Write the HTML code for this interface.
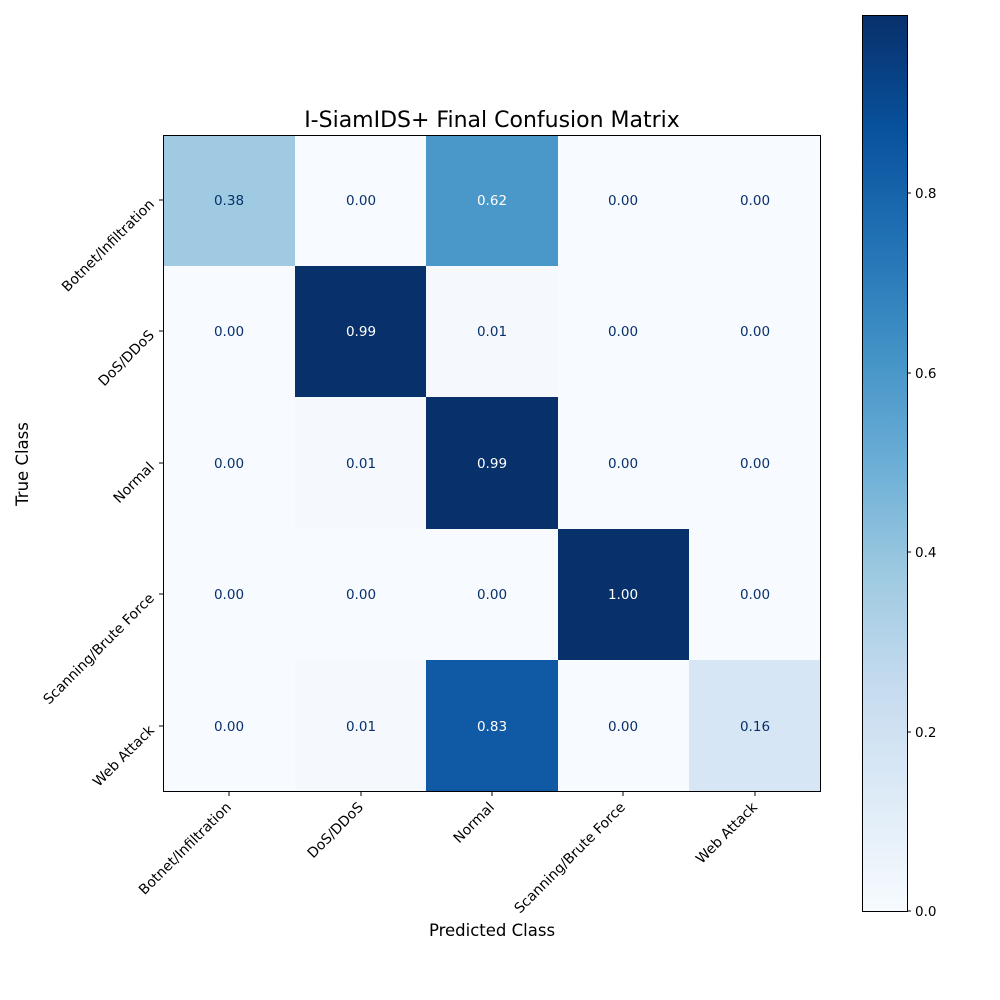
<!DOCTYPE html>
<html><head><style>body{margin:0;background:#fff}svg{display:block;font-family:"DejaVu Sans","Liberation Sans",sans-serif}</style></head>
<body>
<svg width="1000" height="1000" viewBox="0 0 1000 1000">
<defs>
<linearGradient id="g" x1="0" y1="1" x2="0" y2="0">
<stop offset="0" stop-color="#f7fbff"/><stop offset=".125" stop-color="#deebf7"/><stop offset=".25" stop-color="#c6dbef"/><stop offset=".375" stop-color="#9ecae1"/><stop offset=".5" stop-color="#6baed6"/><stop offset=".625" stop-color="#4292c6"/><stop offset=".75" stop-color="#2171b5"/><stop offset=".875" stop-color="#08519c"/><stop offset="1" stop-color="#08306b"/>
</linearGradient>
</defs>
<text x="492" y="127" font-size="22" text-anchor="middle">I-SiamIDS+ Final Confusion Matrix</text>
<g>
<rect x="163" y="135" width="132" height="132" fill="#a0cae1"/>
<rect x="295" y="135" width="132" height="132" fill="#f7fbff"/>
<rect x="426" y="135" width="132" height="132" fill="#4a98c9"/>
<rect x="558" y="135" width="132" height="132" fill="#f7fbff"/>
<rect x="689" y="135" width="132" height="132" fill="#f7fbff"/>
<rect x="163" y="266" width="132" height="132" fill="#f7fbff"/>
<rect x="295" y="266" width="132" height="132" fill="#08306b"/>
<rect x="426" y="266" width="132" height="132" fill="#f5f9fe"/>
<rect x="558" y="266" width="132" height="132" fill="#f7fbff"/>
<rect x="689" y="266" width="132" height="132" fill="#f7fbff"/>
<rect x="163" y="397" width="132" height="132" fill="#f7fbff"/>
<rect x="295" y="397" width="132" height="132" fill="#f5f9fe"/>
<rect x="426" y="397" width="132" height="132" fill="#08306b"/>
<rect x="558" y="397" width="132" height="132" fill="#f7fbff"/>
<rect x="689" y="397" width="132" height="132" fill="#f7fbff"/>
<rect x="163" y="529" width="132" height="132" fill="#f7fbff"/>
<rect x="295" y="529" width="132" height="132" fill="#f7fbff"/>
<rect x="426" y="529" width="132" height="132" fill="#f7fbff"/>
<rect x="558" y="529" width="132" height="132" fill="#08306b"/>
<rect x="689" y="529" width="132" height="132" fill="#f7fbff"/>
<rect x="163" y="660" width="132" height="132" fill="#f7fbff"/>
<rect x="295" y="660" width="132" height="132" fill="#f5f9fe"/>
<rect x="426" y="660" width="132" height="132" fill="#1059a5"/>
<rect x="558" y="660" width="132" height="132" fill="#f7fbff"/>
<rect x="689" y="660" width="132" height="132" fill="#d6e6f4"/>
</g>
<rect x="163.5" y="135.5" width="657" height="656" fill="none" stroke="#000" stroke-width="1"/>
<g font-size="13.5" text-anchor="middle" fill="#08306b">
<text x="229" y="205">0.38</text><text x="361" y="205">0.00</text><text x="492" y="205" fill="#fff">0.62</text><text x="623" y="205">0.00</text><text x="755" y="205">0.00</text>
<text x="229" y="336">0.00</text><text x="361" y="336" fill="#fff">0.99</text><text x="492" y="336">0.01</text><text x="623" y="336">0.00</text><text x="755" y="336">0.00</text>
<text x="229" y="468">0.00</text><text x="361" y="468">0.01</text><text x="492" y="468" fill="#fff">0.99</text><text x="623" y="468">0.00</text><text x="755" y="468">0.00</text>
<text x="229" y="599">0.00</text><text x="361" y="599">0.00</text><text x="492" y="599">0.00</text><text x="623" y="599" fill="#fff">1.00</text><text x="755" y="599">0.00</text>
<text x="229" y="731">0.00</text><text x="361" y="731">0.01</text><text x="492" y="731" fill="#fff">0.83</text><text x="623" y="731">0.00</text><text x="755" y="731">0.16</text>
</g>
<g stroke="#000">
<line x1="159" y1="200" x2="163" y2="200"/><line x1="159" y1="331" x2="163" y2="331"/><line x1="159" y1="463" x2="163" y2="463"/><line x1="159" y1="594" x2="163" y2="594"/><line x1="159" y1="726" x2="163" y2="726"/>
<line x1="229" y1="792" x2="229" y2="796"/><line x1="361" y1="792" x2="361" y2="796"/><line x1="492" y1="792" x2="492" y2="796"/><line x1="623" y1="792" x2="623" y2="796"/><line x1="755" y1="792" x2="755" y2="796"/>
</g>
<g font-size="14" text-anchor="end">
<text x="155" y="205" transform="rotate(-45 155 205)">Botnet/Infiltration</text>
<text x="155" y="336" transform="rotate(-45 155 336)">DoS/DDoS</text>
<text x="155" y="468" transform="rotate(-45 155 468)">Normal</text>
<text x="155" y="599" transform="rotate(-45 155 599)">Scanning/Brute Force</text>
<text x="155" y="731" transform="rotate(-45 155 731)">Web Attack</text>
<text x="232" y="808" transform="rotate(-45 232 808)">Botnet/Infiltration</text>
<text x="364" y="808" transform="rotate(-45 364 808)">DoS/DDoS</text>
<text x="495" y="808" transform="rotate(-45 495 808)">Normal</text>
<text x="626" y="808" transform="rotate(-45 626 808)">Scanning/Brute Force</text>
<text x="758" y="808" transform="rotate(-45 758 808)">Web Attack</text>
</g>
<text x="492" y="936" font-size="16.5" text-anchor="middle">Predicted Class</text>
<text x="28" y="464" font-size="16.5" text-anchor="middle" transform="rotate(-90 28 464)">True Class</text>
<rect x="862.5" y="15.5" width="45" height="896" fill="url(#g)" stroke="#000" stroke-width="1"/>
<g stroke="#000">
<line x1="907" y1="911" x2="911" y2="911"/><line x1="907" y1="732" x2="911" y2="732"/><line x1="907" y1="552" x2="911" y2="552"/><line x1="907" y1="373" x2="911" y2="373"/><line x1="907" y1="193" x2="911" y2="193"/>
</g>
<g font-size="13.5">
<text x="915" y="916">0.0</text><text x="915" y="737">0.2</text><text x="915" y="557">0.4</text><text x="915" y="378">0.6</text><text x="915" y="198">0.8</text>
</g>
</svg>
</body></html>
